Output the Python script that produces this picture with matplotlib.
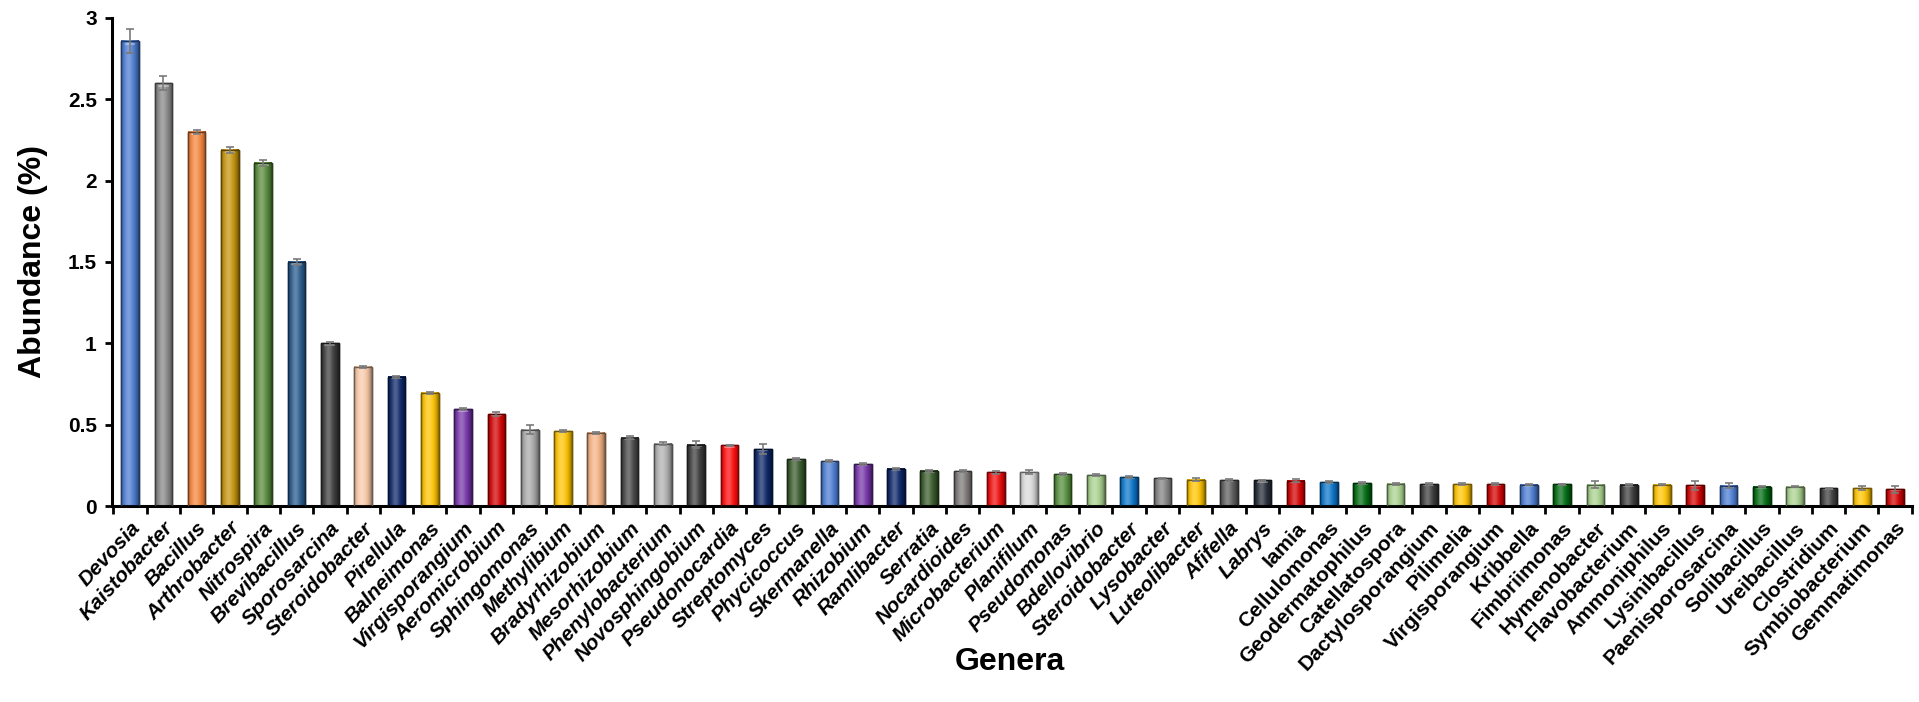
import numpy as np
import matplotlib
matplotlib.use('Agg')
import matplotlib.pyplot as plt
from matplotlib.colors import to_rgb

# --- DATA ---
genera = ['Devosia', 'Kaistobacter', 'Bacillus', 'Arthrobacter', 'Nitrospira',
          'Brevibacillus', 'Sporosarcina', 'Steroidobacter', 'Pirellula', 'Balneimonas',
          'Virgisporangium', 'Aeromicrobium', 'Sphingomonas', 'Methylibium', 'Bradyrhizobium',
          'Mesorhizobium', 'Phenylobacterium', 'Novosphingobium', 'Pseudonocardia', 'Streptomyces',
          'Phycicoccus', 'Skermanella', 'Rhizobium', 'Ramlibacter', 'Serratia',
          'Nocardioides', 'Microbacterium', 'Planifilum', 'Pseudomonas', 'Bdellovibrio',
          'Steroidobacter', 'Lysobacter', 'Luteolibacter', 'Afifella', 'Labrys',
          'Iamia', 'Cellulomonas', 'Geodermatophilus', 'Catellatospora', 'Dactylosporangium',
          'Pilimelia', 'Virgisporangium', 'Kribbella', 'Fimbriimonas', 'Hymenobacter',
          'Flavobacterium', 'Ammoniphilus', 'Lysinibacillus', 'Paenisporosarcina', 'Solibacillus',
          'Ureibacillus', 'Clostridium', 'Symbiobacterium', 'Gemmatimonas']

abundance = [2.86, 2.60, 2.30, 2.19, 2.11, 1.50, 1.00, 0.855, 0.795, 0.695,
             0.595, 0.565, 0.47, 0.46, 0.45, 0.42, 0.383, 0.378, 0.372, 0.35,
             0.287, 0.275, 0.258, 0.23, 0.216, 0.214, 0.208, 0.207, 0.195, 0.189,
             0.178, 0.17, 0.162, 0.158, 0.157, 0.155, 0.147, 0.141, 0.136, 0.135,
             0.135, 0.135, 0.132, 0.133, 0.131, 0.131, 0.131, 0.127, 0.124, 0.119,
             0.119, 0.109, 0.108, 0.104]

errors = [0.075, 0.043, 0.012, 0.017, 0.02, 0.02, 0.01, 0.006, 0.006, 0.006,
          0.006, 0.012, 0.03, 0.008, 0.006, 0.01, 0.008, 0.022, 0.006, 0.033,
          0.006, 0.006, 0.006, 0.005, 0.005, 0.008, 0.01, 0.012, 0.005, 0.005,
          0.005, 0.005, 0.01, 0.005, 0.004, 0.01, 0.006, 0.005, 0.004, 0.004,
          0.004, 0.004, 0.004, 0.004, 0.022, 0.004, 0.004, 0.027, 0.016, 0.004,
          0.004, 0.004, 0.012, 0.022]

bar_colors = ['#4a7bd0', '#858585', '#f5843a', '#c4930a', '#568a3a',
              '#25588a', '#3a3a3a', '#f8c8a8', '#0a2466', '#ffc400',
              '#7433a8', '#d00000', '#a8a8a8', '#ffc400', '#f4b183',
              '#444444', '#b0b0b0', '#3a3a3a', '#ff0a0a', '#0a2466',
              '#37592a', '#4a7bd0', '#7433a8', '#0a2466', '#37592a',
              '#7a7575', '#f00a0a', '#d9d9d9', '#548c3a', '#a9d18e',
              '#0a74c8', '#808080', '#ffc400', '#5c5c5c', '#232a36',
              '#d00000', '#0a74c8', '#006a10', '#a9d18e', '#3a3a3a',
              '#ffc400', '#d00000', '#4a7bd0', '#006a10', '#a9d18e',
              '#3a3a3a', '#ffc400', '#d00000', '#4a7bd0', '#006a10',
              '#a9d18e', '#3a3a3a', '#ffc400', '#d00000']

# labels drawn in italic up to Labrys, upright afterwards (as in the figure)
n_italic = 35

FONT = 'Liberation Sans'


def shade_profile(color, n=64):
    """Horizontal gradient to mimic the cylinder look of the bars."""
    rgb = np.array(to_rgb(color))
    t = np.linspace(0, 1, n)
    # light band slightly left of centre, dark at the edges
    light = np.exp(-((t - 0.42) / 0.22) ** 2)
    dark = np.clip(np.abs(t - 0.45) / 0.55, 0, 1) ** 3
    col = rgb[None, :] * (1 - 0.45 * dark[:, None])
    col = col + (1 - col) * 0.28 * light[:, None]
    return np.clip(col, 0, 1)[None, :, :]


def edge_color(color):
    rgb = np.array(to_rgb(color))
    return tuple(rgb * 0.45)


fig = plt.figure(figsize=(19.19, 7.02), dpi=100)
ax = fig.add_axes([0.0584, 0.2792, 0.938, 0.6952])

x = np.arange(len(genera))
bars = ax.bar(x, abundance, width=0.53, color=bar_colors,
              edgecolor=[edge_color(c) for c in bar_colors], linewidth=1.0, zorder=2)

for b, c in zip(bars, bar_colors):
    bx, bw, bh = b.get_x(), b.get_width(), b.get_height()
    ax.imshow(shade_profile(c), extent=[bx, bx + bw, 0, bh], aspect='auto',
              zorder=2.5, interpolation='bilinear')
    # small lighter cap at the top of each bar
    ax.plot([bx + bw * 0.25, bx + bw * 0.75], [bh * 0.996 - 0.006] * 2,
            color='white', alpha=0.35, lw=1.5, solid_capstyle='round', zorder=2.6)
    ax.add_patch(plt.Rectangle((bx, 0), bw, bh, fill=False,
                               edgecolor=edge_color(c), lw=1.0, zorder=2.7))

ax.errorbar(x, abundance, yerr=errors, fmt='none', ecolor='#7a7a7a',
            elinewidth=1.2, capsize=3, capthick=1.2, zorder=3)

ax.set_xlim(-0.54, len(genera) - 1 + 0.51)
ax.set_ylim(0, 3)
ax.set_yticks([0, 0.5, 1, 1.5, 2, 2.5, 3])
ax.set_yticklabels(['0', '0.5', '1', '1.5', '2', '2.5', '3'],
                   fontsize=15, fontweight='bold', family=FONT)

# category boundaries carry the ticks, labels sit under the bars
ax.set_xticks(np.arange(len(genera) + 1) - 0.5)
ax.set_xticklabels([])
ax.set_xticks(x, minor=True)
ax.set_xticklabels(genera, minor=True)
for i, lab in enumerate(ax.get_xticklabels(minor=True)):
    lab.set_rotation(47)
    lab.set_ha('right')
    lab.set_va('top')
    lab.set_rotation_mode('anchor')
    lab.set_fontsize(15)
    lab.set_fontweight('bold')
    lab.set_family(FONT)
    lab.set_style('italic' if i < n_italic else 'normal')

ax.tick_params(axis='x', which='major', direction='out', length=6, width=2, color='black')
ax.tick_params(axis='x', which='minor', length=0, pad=9)
ax.tick_params(axis='y', direction='out', length=5, width=2, pad=6)

for side in ('top', 'right'):
    ax.spines[side].set_visible(False)
for side in ('left', 'bottom'):
    ax.spines[side].set_linewidth(2.2)

ax.set_ylabel('Abundance (%)', fontsize=23, fontweight='bold', family=FONT, labelpad=14)
fig.text(0.526, 0.057, 'Genera', fontsize=23, fontweight='bold', family=FONT,
         ha='center', va='center')

fig.savefig('out.png', dpi=100)
